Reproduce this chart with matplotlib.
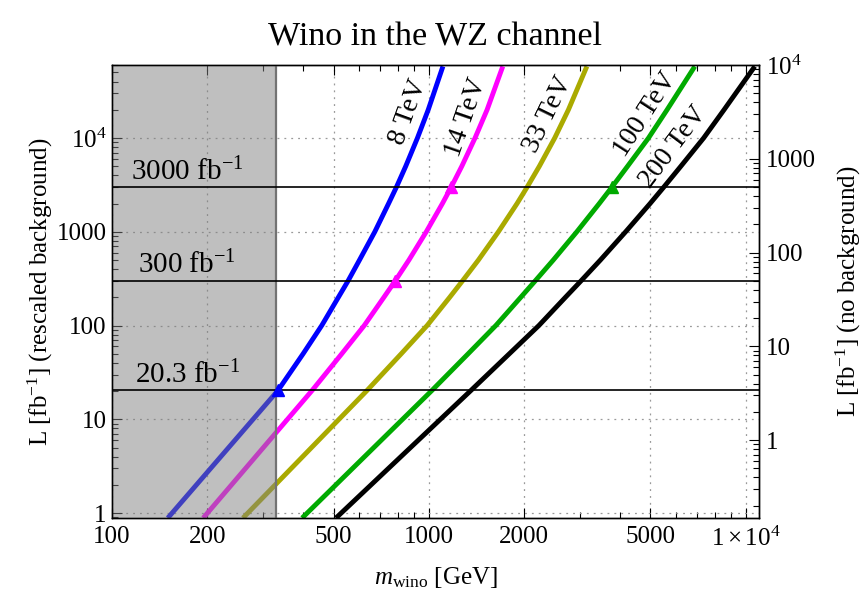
import numpy as np
import matplotlib
matplotlib.use("Agg")
import matplotlib.pyplot as plt
from matplotlib.ticker import FixedLocator, FixedFormatter, NullFormatter, LogLocator

plt.rcParams['font.family'] = ['Liberation Serif', 'DejaVu Serif']
plt.rcParams['mathtext.fontset'] = 'custom'
plt.rcParams['mathtext.rm'] = 'Liberation Serif'
plt.rcParams['mathtext.it'] = 'Liberation Serif:italic'

# luminosity (fb^-1, rescaled background) shared by all curves
lumi = [0.885, 20.3, 50, 100, 200, 300, 500, 1000, 2000, 3000, 5000, 1e4, 2e4, 5.8e4]

# wino mass (GeV) reached at each luminosity, per collider energy
mass_8 = [150, 334, 401, 459, 518, 556, 604, 675, 746, 790, 845, 920, 995, 1107]
mass_14 = [194, 428, 531, 625, 721, 783, 865, 981, 1103, 1176, 1270, 1398, 1526, 1710]
mass_33 = [259, 638, 818, 987, 1163, 1277, 1433, 1657, 1897, 2042, 2231, 2494, 2755, 3150]
mass_100 = [398, 1022, 1330, 1626, 1949, 2166, 2469, 2929, 3447, 3781, 4235, 4930, 5642, 6900]
mass_200 = [509, 1357, 1794, 2223, 2696, 3021, 3477, 4176, 4987, 5512, 6237, 7360, 8535, 10670]

energies = ['8 TeV', '14 TeV', '33 TeV', '100 TeV', '200 TeV']
colors = ['#0000ff', '#ff00ff', '#aaaa00', '#00aa00', '#000000']
# luminosity at which each curve carries a marker
marks = [[20.3], [300, 3000], [], [3000], []]

# label placement (mass, lumi, angle)
label_m = [859, 1308, 2374, 4835, 5929]
label_L = [18900, 16700, 17600, 18000, 8000]
label_rot = [70, 71, 64, 57, 53]

lumi_lines = [20.3, 300, 3000]
lumi_text = ['20.3 fb$^{-1}$', '300 fb$^{-1}$', '3000 fb$^{-1}$']

excluded_mass = 330
bg_factor = 6.0

xticks = [100, 200, 500, 1000, 2000, 5000, 10000]
xticklabels = ['100', '200', '500', '1000', '2000', '5000', r'$1\times10^4$']
yticks = [1, 10, 100, 1000, 10000]
yticklabels = ['1', '10', '100', '1000', r'$10^4$']

fig = plt.figure(figsize=(8.62, 5.97), dpi=100)
ax = fig.add_axes([0.1299, 0.1323, 0.7506, 0.7588])

masses = [mass_8, mass_14, mass_33, mass_100, mass_200]
for m, c, mk in zip(masses, colors, marks):
    ax.plot(m, lumi, color=c, lw=3.5, zorder=2, solid_capstyle='butt')
    for lv in mk:
        i = lumi.index(lv)
        ax.plot(m[i], lumi[i], marker='^', ms=9, color=c, zorder=5, clip_on=False)

for e, x, y, r in zip(energies, label_m, label_L, label_rot):
    ax.text(x, y, e, rotation=r, ha='center', va='center', rotation_mode='anchor',
            fontsize=20, color='black', zorder=6)

ax.axvspan(100, excluded_mass, facecolor='0.5', alpha=0.5, edgecolor='none', zorder=3)
ax.axvline(excluded_mass, color='0.45', lw=1.6, zorder=3)

for lv, t in zip(lumi_lines, lumi_text):
    ax.axhline(lv, color='black', lw=1.2, zorder=4)
    ax.text(173, lv * 1.19, t, ha='center', va='baseline', fontsize=21, zorder=6)

ax.set_xscale('log')
ax.set_yscale('log')
ax.set_xlim(100, 11000)
ax.set_ylim(0.885, 6e4)

ax.xaxis.set_major_locator(FixedLocator(xticks))
ax.xaxis.set_major_formatter(FixedFormatter(xticklabels))
ax.xaxis.set_minor_locator(LogLocator(base=10, subs=range(2, 10)))
ax.xaxis.set_minor_formatter(NullFormatter())
ax.yaxis.set_major_locator(FixedLocator(yticks))
ax.yaxis.set_major_formatter(FixedFormatter(yticklabels))
ax.yaxis.set_minor_locator(LogLocator(base=10, subs=range(2, 10)))
ax.yaxis.set_minor_formatter(NullFormatter())

ax.grid(which='major', linestyle=(0, (1.5, 4)), color='#9a9a9a', lw=0.9)
ax.tick_params(axis='both', which='both', direction='in', labelsize=18, width=0.8)
ax.tick_params(axis='x', which='both', top=True, pad=6)
ax.tick_params(axis='y', which='both', right=False, pad=4)
ax.tick_params(which='major', length=7)
ax.tick_params(which='minor', length=4)

ax2 = ax.twinx()
ax2.set_yscale('log')
ax2.set_ylim(0.885 / bg_factor, 6e4 / bg_factor)
ax2.yaxis.set_major_locator(FixedLocator(yticks))
ax2.yaxis.set_major_formatter(FixedFormatter(yticklabels))
ax2.yaxis.set_minor_locator(LogLocator(base=10, subs=range(2, 10)))
ax2.yaxis.set_minor_formatter(NullFormatter())
ax2.tick_params(axis='y', which='both', direction='in', labelsize=18, width=0.8, pad=5)
ax2.tick_params(which='major', length=7)
ax2.tick_params(which='minor', length=4)

for a in (ax, ax2):
    for s in a.spines.values():
        s.set_linewidth(1.0)

ax.set_title('Wino in the WZ channel', fontsize=24.5, pad=14)
ax.text(-0.111, 0.5, 'L [fb$^{-1}$] (rescaled background)', transform=ax.transAxes,
        rotation=90, ha='center', va='center', fontsize=18)
ax.text(1.1375, 0.5, 'L [fb$^{-1}$] (no background)', transform=ax.transAxes,
        rotation=90, ha='center', va='center', fontsize=18)
ax.text(0.5, -0.132, r'$m_{\rm wino}$ [GeV]', transform=ax.transAxes,
        ha='center', va='center', fontsize=18)

fig.savefig('out.png', dpi=100)
